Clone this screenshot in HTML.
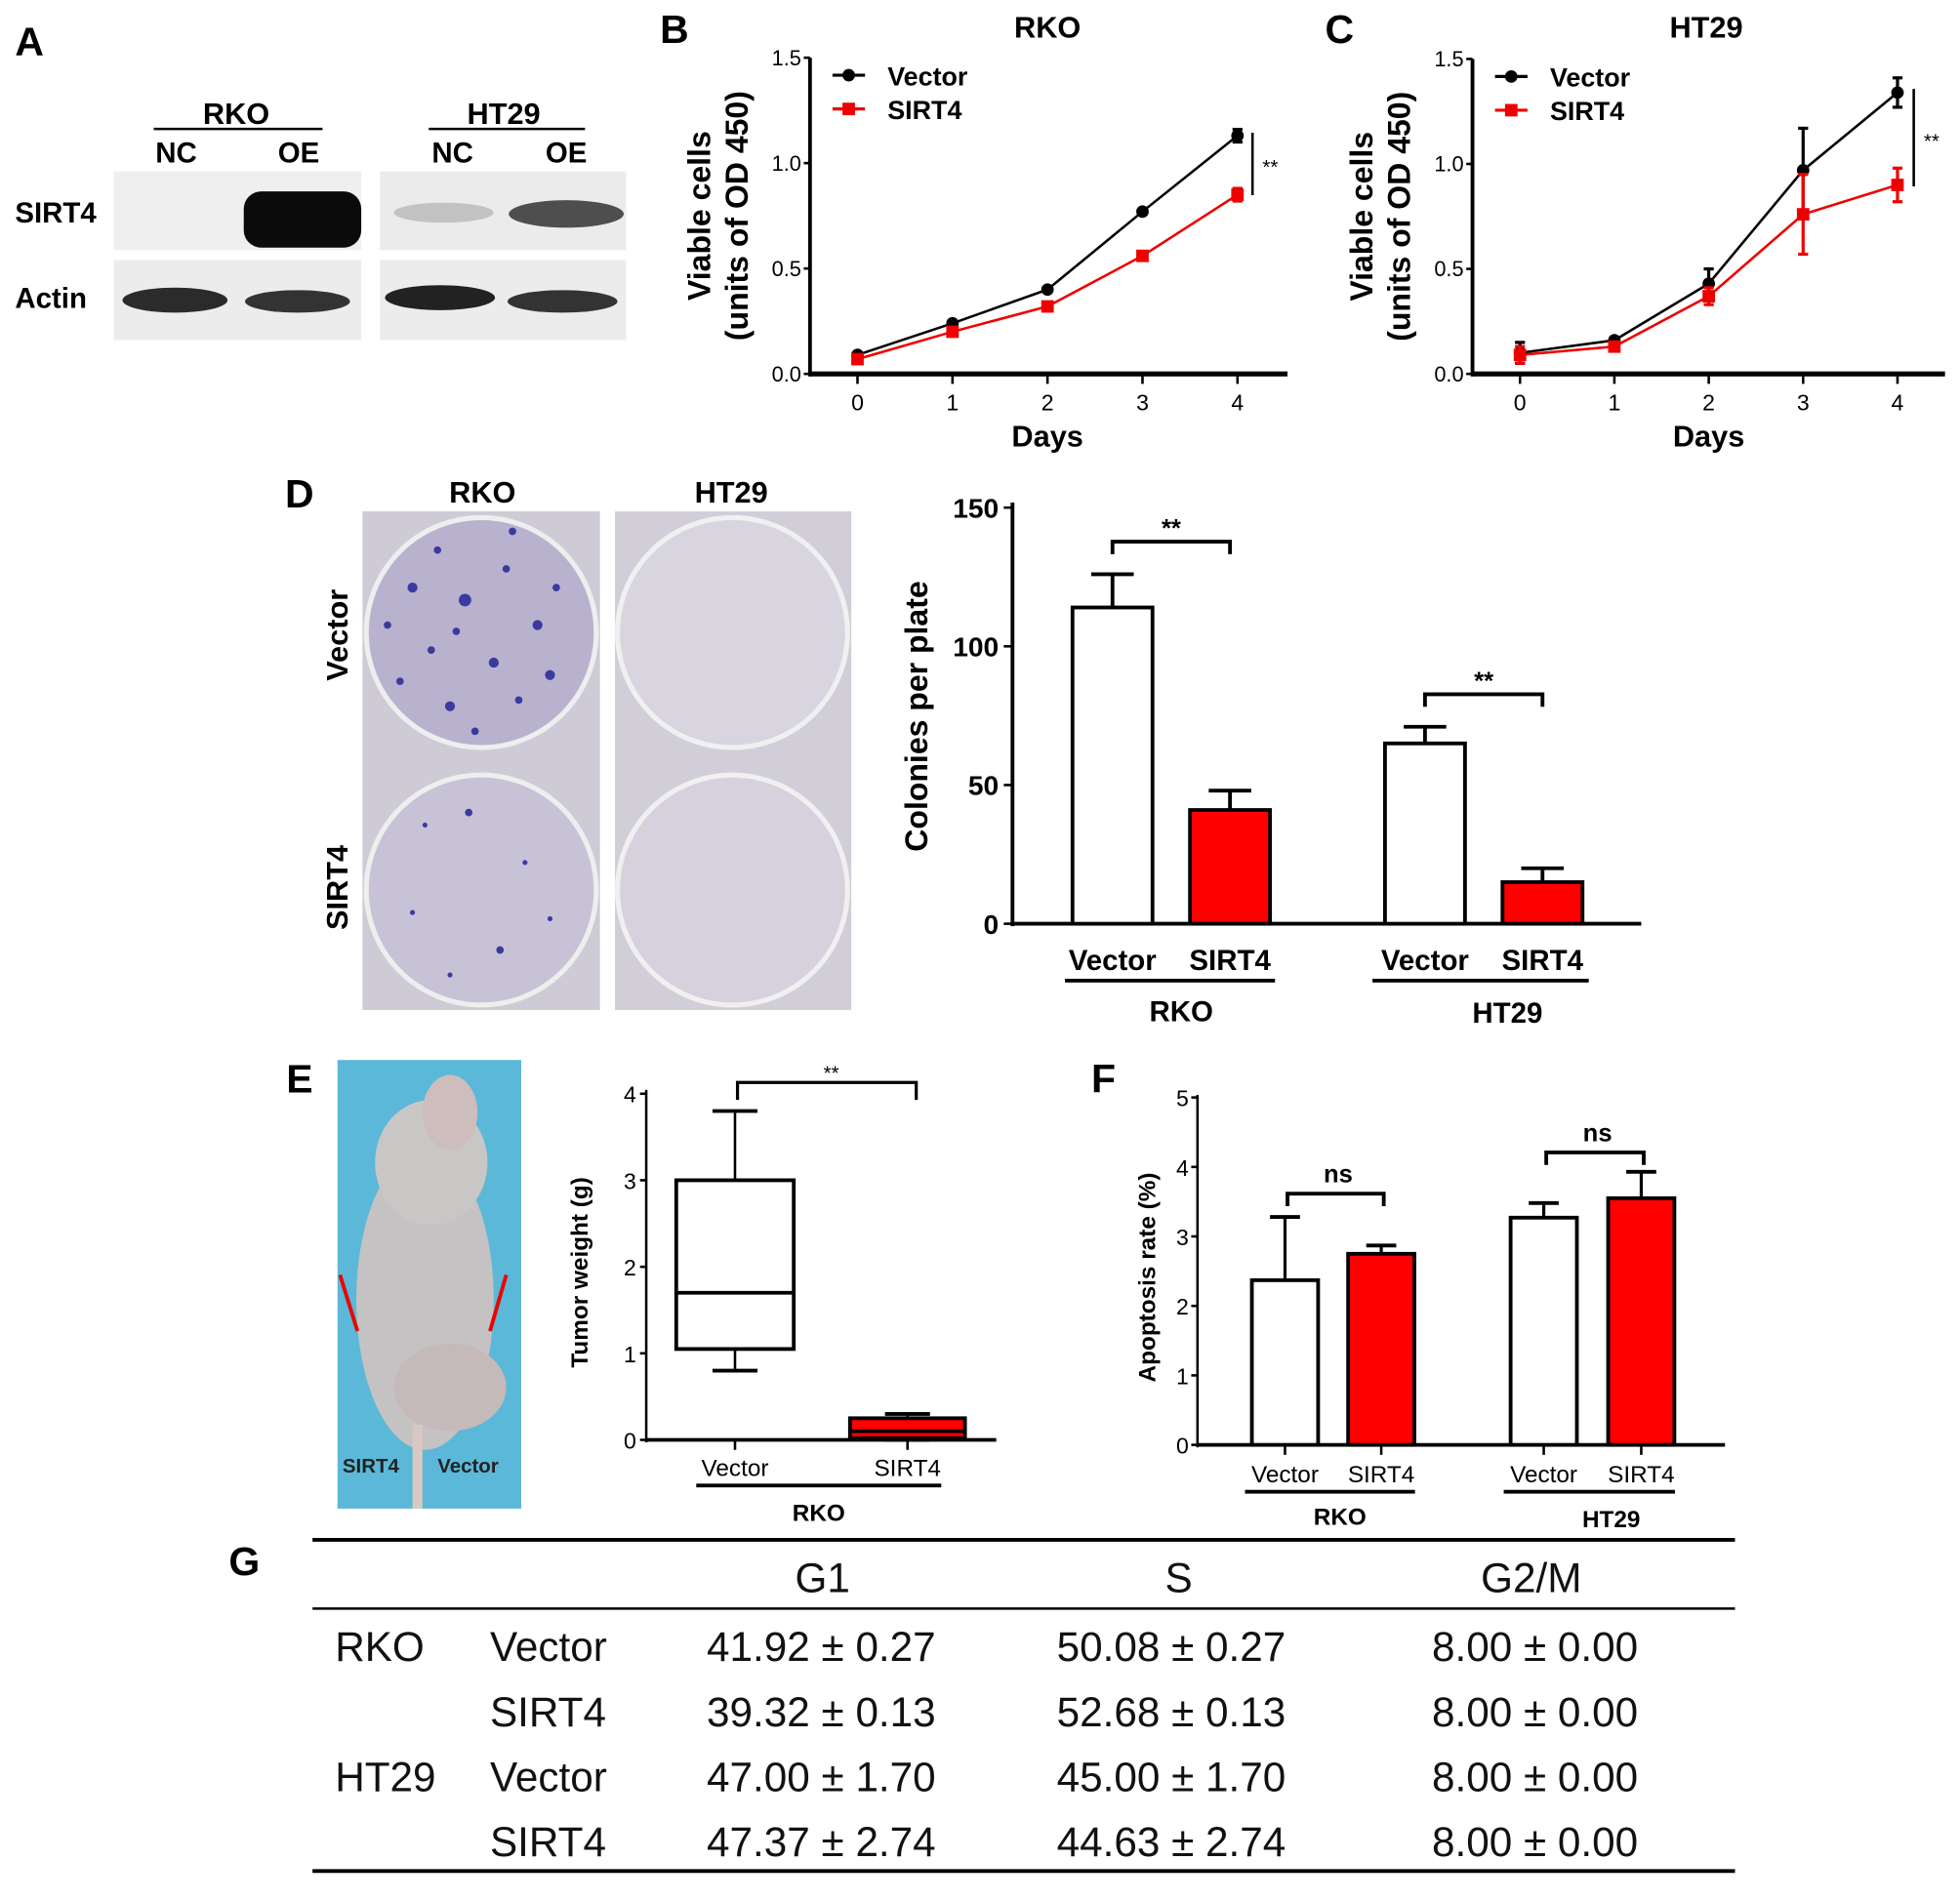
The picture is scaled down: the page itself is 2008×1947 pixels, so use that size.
<!DOCTYPE html>
<html><head><meta charset="utf-8"><style>
html,body{margin:0;padding:0;background:#fff}
svg{display:block}
text{font-family:"Liberation Sans",sans-serif}
.b{font-weight:bold}
.tb{font-family:"Liberation Sans","Noto Sans CJK SC",sans-serif;font-size:33px;fill:#111}
</style></head><body>
<svg id="fig" width="2008" height="1947" viewBox="0 0 1568 1520" xmlns="http://www.w3.org/2000/svg">
<rect width="1568" height="1520" fill="#fff"/>
<!-- Panel A -->
<g>
<text x="12" y="44" class="b" font-size="32">A</text>
<text x="189" y="99" class="b" font-size="24" text-anchor="middle">RKO</text>
<line x1="123" y1="103" x2="258" y2="103" stroke="#000" stroke-width="2"/>
<text x="141" y="130" class="b" font-size="23" text-anchor="middle">NC</text>
<text x="239" y="130" class="b" font-size="23" text-anchor="middle">OE</text>
<text x="403" y="99" class="b" font-size="24" text-anchor="middle">HT29</text>
<line x1="343" y1="103" x2="468" y2="103" stroke="#000" stroke-width="2"/>
<text x="362" y="130" class="b" font-size="23" text-anchor="middle">NC</text>
<text x="453" y="130" class="b" font-size="23" text-anchor="middle">OE</text>
<text x="12" y="178" class="b" font-size="23">SIRT4</text>
<text x="12" y="246" class="b" font-size="23">Actin</text>
<rect x="91" y="137" width="198" height="63" fill="#efefef"/>
<rect x="304" y="137" width="197" height="63" fill="#ebebeb"/>
<rect x="91" y="208" width="198" height="64" fill="#ececec"/>
<rect x="304" y="208" width="197" height="64" fill="#ececec"/>
<rect x="195" y="153" width="94" height="45" rx="14" fill="#0b0b0b"/>
<ellipse cx="453" cy="171" rx="46" ry="11" fill="#333" opacity="0.85"/>
<ellipse cx="355" cy="170" rx="40" ry="8" fill="#999" opacity="0.5"/>
<ellipse cx="140" cy="240" rx="42" ry="10" fill="#2b2b2b"/>
<ellipse cx="238" cy="241" rx="42" ry="9" fill="#333"/>
<ellipse cx="352" cy="238" rx="44" ry="10" fill="#222"/>
<ellipse cx="450" cy="241" rx="44" ry="9" fill="#333"/>
</g>
<!-- Panel D photo -->
<g>
<text x="228" y="406" class="b" font-size="32">D</text>
<text x="386" y="402" class="b" font-size="24" text-anchor="middle">RKO</text>
<text x="585" y="402" class="b" font-size="24" text-anchor="middle">HT29</text>
<text transform="translate(278,508) rotate(-90)" class="b" font-size="24" text-anchor="middle">Vector</text>
<text transform="translate(278,710) rotate(-90)" class="b" font-size="24" text-anchor="middle">SIRT4</text>
<rect x="290" y="409" width="190" height="399" fill="#cfcbd6"/>
<rect x="492" y="409" width="189" height="399" fill="#d2ced8"/>
<circle cx="385" cy="506" r="92" fill="#b9b2cf" stroke="#eee" stroke-width="4"/>
<circle cx="385" cy="712" r="92" fill="#c7c2d6" stroke="#eee" stroke-width="4"/>
<circle cx="586" cy="506" r="92" fill="#d8d5de" stroke="#f0f0f0" stroke-width="4"/>
<circle cx="586" cy="712" r="92" fill="#d6d1dc" stroke="#f0f0f0" stroke-width="4"/>
<g fill="#3a3aa0">
<circle cx="330" cy="470" r="4"/><circle cx="350" cy="440" r="3"/><circle cx="372" cy="480" r="5"/><circle cx="405" cy="455" r="3"/><circle cx="430" cy="500" r="4"/><circle cx="345" cy="520" r="3"/><circle cx="395" cy="530" r="4"/><circle cx="320" cy="545" r="3"/><circle cx="360" cy="565" r="4"/><circle cx="415" cy="560" r="3"/><circle cx="445" cy="470" r="3"/><circle cx="310" cy="500" r="3"/><circle cx="380" cy="585" r="3"/><circle cx="440" cy="540" r="4"/><circle cx="365" cy="505" r="3"/><circle cx="410" cy="425" r="3"/>
<circle cx="340" cy="660" r="2"/><circle cx="375" cy="650" r="3"/><circle cx="420" cy="690" r="2"/><circle cx="330" cy="730" r="2"/><circle cx="400" cy="760" r="3"/><circle cx="360" cy="780" r="2"/><circle cx="440" cy="735" r="2"/>
</g>
</g>
<!-- Panel E photo -->
<g>
<text x="229" y="874" class="b" font-size="32">E</text>
<rect x="270" y="848" width="147" height="359" fill="#5bb8d8"/>
<ellipse cx="340" cy="1040" rx="55" ry="120" fill="#c4c2c2"/>
<ellipse cx="345" cy="930" rx="45" ry="50" fill="#c9c7c6"/>
<ellipse cx="360" cy="890" rx="22" ry="30" fill="#cdbdbd"/>
<ellipse cx="360" cy="1110" rx="45" ry="35" fill="#c6b9ba"/>
<rect x="330" y="1140" width="8" height="67" fill="#d8c8c4"/>
<line x1="272" y1="1020" x2="286" y2="1065" stroke="#e00" stroke-width="3"/>
<line x1="405" y1="1020" x2="392" y2="1065" stroke="#e00" stroke-width="3"/>
<text x="274" y="1178" font-family="Liberation Serif,serif" font-weight="bold" font-size="16" fill="#222">SIRT4</text>
<text x="350" y="1178" font-family="Liberation Serif,serif" font-weight="bold" font-size="16" fill="#222">Vector</text>
</g>
<text x="873" y="874" class="b" font-size="32">F</text>
<text x="528" y="34" class="b" font-size="32">B</text>
<text x="1060" y="34" class="b" font-size="32">C</text>
<!-- Table G -->
<g>
<text x="183" y="1260" class="b" font-size="32">G</text>
<line x1="250" y1="1232" x2="1388" y2="1232" stroke="#000" stroke-width="3"/>
<line x1="250" y1="1287" x2="1388" y2="1287" stroke="#000" stroke-width="2"/>
<line x1="250" y1="1497" x2="1388" y2="1497" stroke="#000" stroke-width="3"/>
<g class="tb" text-anchor="middle">
<text x="658" y="1274">G1</text><text x="943" y="1274">S</text><text x="1225" y="1274">G2/M</text>
</g>
<g class="tb">
<text x="268" y="1329">RKO</text><text x="268" y="1433">HT29</text>
<text x="392" y="1329">Vector</text><text x="392" y="1381">SIRT4</text><text x="392" y="1433">Vector</text><text x="392" y="1485">SIRT4</text>
</g>
<g class="tb" text-anchor="middle" xml:space="preserve">
<text x="657" y="1329">41.92 ± 0.27</text><text x="937" y="1329">50.08 ± 0.27</text><text x="1228" y="1329">8.00 ± 0.00</text>
<text x="657" y="1381">39.32 ± 0.13</text><text x="937" y="1381">52.68 ± 0.13</text><text x="1228" y="1381">8.00 ± 0.00</text>
<text x="657" y="1433">47.00 ± 1.70</text><text x="937" y="1433">45.00 ± 1.70</text><text x="1228" y="1433">8.00 ± 0.00</text>
<text x="657" y="1485">47.37 ± 2.74</text><text x="937" y="1485">44.63 ± 2.74</text><text x="1228" y="1485">8.00 ± 0.00</text>
</g>
</g>
<g id="charts"></g>
</svg>
<script>
// ---- data ----
const bDays=[0,1,2,3,4];
const bVector=[0.09,0.24,0.40,0.77,1.13];
const bVectorErr=[0.01,0.01,0.01,0.01,0.03];
const bSirt4=[0.07,0.20,0.32,0.56,0.85];
const bSirt4Err=[0.01,0.01,0.02,0.02,0.03];
const cDays=[0,1,2,3,4];
const cVector=[0.10,0.16,0.43,0.97,1.34];
const cVectorErr=[0.05,0.01,0.07,0.20,0.07];
const cSirt4=[0.09,0.13,0.37,0.76,0.90];
const cSirt4Err=[0.04,0.01,0.04,0.19,0.08];
const odTicks=["0.0","0.5","1.0","1.5"];
const dCategories=["Vector","SIRT4","Vector","SIRT4"];
const dValues=[114,41,65,15];
const dErrors=[12,7,6,5];
const dTicks=[0,50,100,150];
const eCategories=["Vector","SIRT4"];
const eMin=[0.8,0.0];
const eQ1=[1.05,0.02];
const eMedian=[1.7,0.1];
const eQ3=[3.0,0.25];
const eMax=[3.8,0.3];
const eTicks=[0,1,2,3,4];
const fCategories=["Vector","SIRT4","Vector","SIRT4"];
const fValues=[2.37,2.75,3.27,3.55];
const fErrors=[0.91,0.12,0.21,0.38];
const fTicks=[0,1,2,3,4,5];

const NS='http://www.w3.org/2000/svg';
const root=document.getElementById('charts');
function mk(tag,a,p){const e=document.createElementNS(NS,tag);for(const k in a)e.setAttribute(k,a[k]);(p||root).appendChild(e);return e;}
function txt(s,a,p){const e=mk('text',a,p);e.textContent=s;return e;}

function lineChart(o){
  const g=mk('g',{});
  
  
  const x=d=>o.x0+d*o.dx, y=v=>o.yBase-v*(o.yBase-o.yTop)/1.5;
  txt(o.title,{x:o.titleX,y:30,'font-size':24,'font-weight':'bold','text-anchor':'middle'},g);
  mk('line',{x1:o.ax,y1:o.yTop,x2:o.ax,y2:o.yBase+2,stroke:'#000','stroke-width':3},g);
  mk('line',{x1:o.ax,y1:o.yBase,x2:o.axEnd,y2:o.yBase,stroke:'#000','stroke-width':4},g);
  odTicks.forEach(t=>{const v=parseFloat(t);
    mk('line',{x1:o.ax-5,y1:y(v),x2:o.ax,y2:y(v),stroke:'#000','stroke-width':2},g);
    const l=txt(t,{x:o.ax-7,y:y(v)+6,'font-size':17,'text-anchor':'end'},g);
    
    });
  o.days.forEach(d=>{
    mk('line',{x1:x(d),y1:o.yBase,x2:x(d),y2:o.yBase+8,stroke:'#000','stroke-width':2},g);
    const l=txt(String(d),{x:x(d),y:o.yBase+29,'font-size':18,'text-anchor':'middle'},g);
    
    });
  const yl=txt('Viable cells',{transform:`translate(${o.ax-80},${(o.yTop+o.yBase)/2}) rotate(-90)`,'font-size':25,'font-weight':'bold','text-anchor':'middle'},g);
  
  
  txt('(units of OD 450)',{transform:`translate(${o.ax-50},${(o.yTop+o.yBase)/2}) rotate(-90)`,'font-size':25,'font-weight':'bold','text-anchor':'middle'},g);
  const xl=txt('Days',{x:x(2),y:o.yBase+58,'font-size':24,'font-weight':'bold','text-anchor':'middle'},g);
  
  
  [[o.vec,o.vecErr,'#000','circle','vector'],[o.sir,o.sirErr,'#e00','square','sirt4']].forEach(([vals,errs,c,shape,nm])=>{
    const s=mk('g',{},g);
    
    
    mk('polyline',{points:o.days.map((d,i)=>x(d)+','+y(vals[i])).join(' '),fill:'none',stroke:c,'stroke-width':2},s);
    o.days.forEach((d,i)=>{
      mk('line',{x1:x(d),y1:y(vals[i]+errs[i]),x2:x(d),y2:y(vals[i]-errs[i]),stroke:c,'stroke-width':2.5},s);
      mk('line',{x1:x(d)-4,y1:y(vals[i]+errs[i]),x2:x(d)+4,y2:y(vals[i]+errs[i]),stroke:c,'stroke-width':2.5},s);
      mk('line',{x1:x(d)-4,y1:y(vals[i]-errs[i]),x2:x(d)+4,y2:y(vals[i]-errs[i]),stroke:c,'stroke-width':2.5},s);
      let m;
      if(shape==='circle')m=mk('circle',{cx:x(d),cy:y(vals[i]),r:5,fill:c},s);
      else m=mk('rect',{x:x(d)-5,y:y(vals[i])-5,width:10,height:10,fill:c},s);
      
      
    });
  });
  const lg=mk('g',{},g);
  
  
  mk('line',{x1:o.ax+18,y1:o.yTop+14,x2:o.ax+44,y2:o.yTop+14,stroke:'#000','stroke-width':2.5},lg);
  mk('circle',{cx:o.ax+31,cy:o.yTop+14,r:5},lg);
  txt('Vector',{x:o.ax+62,y:o.yTop+22,'font-size':21,'font-weight':'bold'},lg);
  mk('line',{x1:o.ax+18,y1:o.yTop+41,x2:o.ax+44,y2:o.yTop+41,stroke:'#e00','stroke-width':2.5},lg);
  mk('rect',{x:o.ax+26,y:o.yTop+36,width:10,height:10,fill:'#e00'},lg);
  txt('SIRT4',{x:o.ax+62,y:o.yTop+49,'font-size':21,'font-weight':'bold'},lg);
  mk('line',{x1:o.sigX,y1:o.sigY1,x2:o.sigX,y2:o.sigY2,stroke:'#000','stroke-width':2},g);
  txt('**',{x:o.sigX+8,y:(o.sigY1+o.sigY2)/2+8,'font-size':16},g);
}
lineChart({name:'panel-b-rko-viability-chart',title:'RKO',titleX:838,x0:686,dx:76,yTop:46,yBase:299,ax:648,axEnd:1030,days:bDays,vec:bVector,vecErr:bVectorErr,sir:bSirt4,sirErr:bSirt4Err,sigX:1002,sigY1:106,sigY2:156});
lineChart({name:'panel-c-ht29-viability-chart',title:'HT29',titleX:1365,x0:1216,dx:75.5,yTop:47,yBase:299,ax:1178,axEnd:1556,days:cDays,vec:cVector,vecErr:cVectorErr,sir:cSirt4,sirErr:cSirt4Err,sigX:1531,sigY1:71,sigY2:149});

// Panel D bar chart
(function(){
  const g=mk('g',{});
  
  
  const y=v=>739-v*(333/150);
  const xs=[890,984,1140,1234], w=64;
  mk('line',{x1:810,y1:402,x2:810,y2:741,stroke:'#000','stroke-width':3},g);
  mk('line',{x1:810,y1:739,x2:1313,y2:739,stroke:'#000','stroke-width':3},g);
  dTicks.forEach(t=>{mk('line',{x1:803,y1:y(t),x2:810,y2:y(t),stroke:'#000','stroke-width':2},g);
    const l=txt(String(t),{x:799,y:y(t)+8,'font-size':22,'font-weight':'bold','text-anchor':'end'},g);
    
    });
  const yl=txt('Colonies per plate',{transform:'translate(742,573) rotate(-90)','font-size':25,'font-weight':'bold','text-anchor':'middle'},g);
  
  
  dValues.forEach((v,i)=>{
    const top=y(v+dErrors[i]);
    mk('line',{x1:xs[i],y1:y(v),x2:xs[i],y2:top,stroke:'#000','stroke-width':3},g);
    mk('line',{x1:xs[i]-17,y1:top,x2:xs[i]+17,y2:top,stroke:'#000','stroke-width':3},g);
    const b=mk('rect',{x:xs[i]-w/2,y:y(v),width:w,height:739-y(v),fill:i%2?'#f00':'#fff',stroke:'#000','stroke-width':3},g);
    
    
    txt(dCategories[i],{x:xs[i],y:776,'font-size':23,'font-weight':'bold','text-anchor':'middle'},g);
  });
  mk('rect',{x:852,y:783,width:168,height:3},g);
  mk('rect',{x:1098,y:783,width:173,height:3},g);
  txt('RKO',{x:945,y:817,'font-size':23,'font-weight':'bold','text-anchor':'middle'},g);
  txt('HT29',{x:1206,y:818,'font-size':23,'font-weight':'bold','text-anchor':'middle'},g);
  [[0,1],[2,3]].forEach(([a,b])=>{const top=Math.max(y(dValues[a]+dErrors[a]),y(dValues[b]+dErrors[b]))>0?Math.min(y(dValues[a]+dErrors[a]),y(dValues[b]+dErrors[b]))-26:0;
    mk('polyline',{points:`${xs[a]},${top+10} ${xs[a]},${top} ${xs[b]},${top} ${xs[b]},${top+10}`,fill:'none',stroke:'#000','stroke-width':3},g);
    txt('**',{x:(xs[a]+xs[b])/2,y:top-4,'font-size':20,'font-weight':'bold','text-anchor':'middle'},g);});
})();

// Panel E box plot
(function(){
  const g=mk('g',{});
  
  
  const y=v=>1152-v*69.25;
  const xs=[588,726];
  mk('line',{x1:517,y1:872,x2:517,y2:1154,stroke:'#000','stroke-width':2},g);
  mk('line',{x1:517,y1:1152,x2:797,y2:1152,stroke:'#000','stroke-width':3},g);
  eTicks.forEach(t=>{mk('line',{x1:512,y1:y(t),x2:517,y2:y(t),stroke:'#000','stroke-width':2},g);
    const l=txt(String(t),{x:509,y:y(t)+7,'font-size':18,'text-anchor':'end'},g);
    
    });
  const yl=txt('Tumor weight (g)',{transform:'translate(470,1018) rotate(-90)','font-size':19,'font-weight':'bold','text-anchor':'middle'},g);
  
  
  eCategories.forEach((c,i)=>{
    const x=xs[i],hw=i?46:47;
    mk('line',{x1:x,y1:y(eMax[i]),x2:x,y2:y(eMin[i]),stroke:'#000','stroke-width':2},g);
    mk('line',{x1:x-18,y1:y(eMax[i]),x2:x+18,y2:y(eMax[i]),stroke:'#000','stroke-width':3},g);
    mk('line',{x1:x-18,y1:y(eMin[i]),x2:x+18,y2:y(eMin[i]),stroke:'#000','stroke-width':3},g);
    const b=mk('rect',{x:x-hw,y:y(eQ3[i]),width:hw*2,height:y(eQ1[i])-y(eQ3[i]),fill:i?'#f00':'#fff',stroke:'#000','stroke-width':3},g);
    
    
    mk('line',{x1:x-hw,y1:y(eMedian[i]),x2:x+hw,y2:y(eMedian[i]),stroke:'#000','stroke-width':3},g);
    mk('line',{x1:x,y1:1152,x2:x,y2:1160,stroke:'#000','stroke-width':2},g);
    txt(c,{x:x,y:1181,'font-size':19,'text-anchor':'middle'},g);
  });
  mk('rect',{x:557,y:1187,width:196,height:3},g);
  txt('RKO',{x:655,y:1217,'font-size':19,'font-weight':'bold','text-anchor':'middle'},g);
  mk('polyline',{points:`590,880 590,866 733,866 733,880`,fill:'none',stroke:'#000','stroke-width':2.5},g);
  txt('**',{x:665,y:864,'font-size':16,'text-anchor':'middle'},g);
})();

// Panel F bar chart
(function(){
  const g=mk('g',{});
  
  
  const y=v=>1156-v*55.6;
  const xs=[1028,1105,1235,1313], w=53;
  mk('line',{x1:958,y1:876,x2:958,y2:1158,stroke:'#000','stroke-width':2},g);
  mk('line',{x1:958,y1:1156,x2:1380,y2:1156,stroke:'#000','stroke-width':3},g);
  fTicks.forEach(t=>{mk('line',{x1:953,y1:y(t),x2:958,y2:y(t),stroke:'#000','stroke-width':2},g);
    const l=txt(String(t),{x:951,y:y(t)+7,'font-size':18,'text-anchor':'end'},g);
    
    });
  const yl=txt('Apoptosis rate (%)',{transform:'translate(924,1022) rotate(-90)','font-size':19,'font-weight':'bold','text-anchor':'middle'},g);
  
  
  fValues.forEach((v,i)=>{
    const top=y(v+fErrors[i]);
    mk('line',{x1:xs[i],y1:y(v),x2:xs[i],y2:top,stroke:'#000','stroke-width':2.5},g);
    mk('line',{x1:xs[i]-12,y1:top,x2:xs[i]+12,y2:top,stroke:'#000','stroke-width':3},g);
    const b=mk('rect',{x:xs[i]-w/2,y:y(v),width:w,height:1156-y(v),fill:i%2?'#f00':'#fff',stroke:'#000','stroke-width':3},g);
    
    
    mk('line',{x1:xs[i],y1:1156,x2:xs[i],y2:1164,stroke:'#000','stroke-width':2},g);
    txt(fCategories[i],{x:xs[i],y:1186,'font-size':19,'text-anchor':'middle'},g);
  });
  mk('rect',{x:996,y:1192,width:136,height:3},g);
  mk('rect',{x:1203,y:1192,width:137,height:3},g);
  txt('RKO',{x:1072,y:1220,'font-size':19,'font-weight':'bold','text-anchor':'middle'},g);
  txt('HT29',{x:1289,y:1222,'font-size':19,'font-weight':'bold','text-anchor':'middle'},g);
  [[0,1,955],[2,3,922]].forEach(([a,b,yy])=>{
    mk('polyline',{points:`${xs[a]+2},${yy+10} ${xs[a]+2},${yy} ${xs[b]+2},${yy} ${xs[b]+2},${yy+10}`,fill:'none',stroke:'#000','stroke-width':3},g);
    txt('ns',{x:(xs[a]+xs[b])/2+4,y:yy-9,'font-size':20,'font-weight':'bold','text-anchor':'middle'},g);});
})();
</script>
</body></html>
